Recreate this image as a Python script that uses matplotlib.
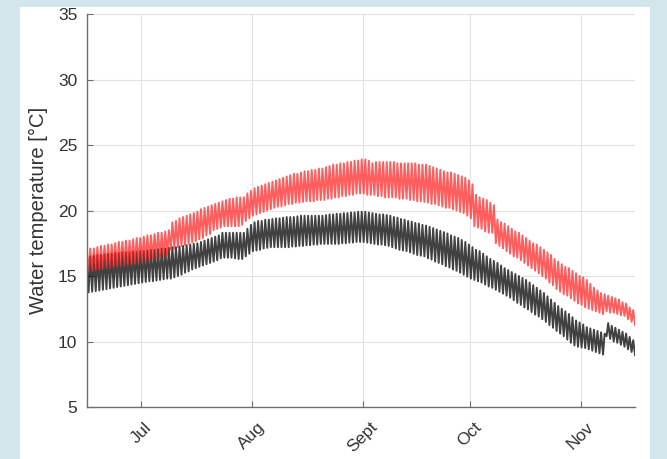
import numpy as np
import matplotlib
matplotlib.use("Agg")
import matplotlib.pyplot as plt
from matplotlib.patches import Rectangle

plt.rcParams['font.family'] = ['Liberation Sans', 'DejaVu Sans']

# day offsets from 15 June; one daily low and one daily high per series
days = np.arange(155)

red_high = [
    17.0, 17.1, 17.1, 17.2, 17.3, 17.3, 17.4, 17.4, 17.5, 17.6,
    17.6, 17.7, 17.7, 17.8, 17.9, 17.9, 18.0, 18.1, 18.1, 18.2,
    18.3, 18.3, 18.4, 18.5, 19.1, 19.2, 19.4, 19.5, 19.6, 19.7,
    19.8, 19.9, 20.1, 20.2, 20.3, 20.4, 20.5, 20.6, 20.7, 20.8,
    20.9, 20.9, 21.0, 21.0, 21.0, 21.3, 21.5, 21.7, 21.8, 21.9,
    22.0, 22.1, 22.2, 22.3, 22.4, 22.5, 22.6, 22.7, 22.8, 22.8,
    22.9, 23.0, 23.0, 23.1, 23.1, 23.2, 23.2, 23.3, 23.4, 23.5,
    23.5, 23.6, 23.6, 23.7, 23.7, 23.8, 23.8, 23.9, 23.9, 23.8,
    23.6, 23.7, 23.7, 23.7, 23.7, 23.7, 23.7, 23.6, 23.6, 23.6,
    23.6, 23.6, 23.6, 23.5, 23.5, 23.5, 23.4, 23.3, 23.2, 23.1,
    23.0, 22.9, 22.9, 22.8, 22.7, 22.6, 22.5, 22.3, 22.0, 21.2,
    21.0, 20.9, 20.8, 20.6, 20.4, 19.3, 19.1, 19.0, 18.8, 18.6,
    18.4, 18.3, 18.1, 17.9, 17.7, 17.5, 17.4, 17.2, 17.0, 16.8,
    16.6, 16.3, 16.1, 15.9, 15.7, 15.6, 15.4, 15.2, 15.0, 14.9,
    14.7, 14.4, 14.1, 13.9, 13.7, 13.6, 13.5, 13.4, 13.3, 13.2,
    13.0, 12.9, 12.6, 12.4, 12.1]
red_low = [
    15.3, 15.35, 15.4, 15.45, 15.5, 15.55, 15.6, 15.65, 15.7, 15.75,
    15.8, 15.8, 15.85, 15.9, 15.95, 16.0, 16.1, 16.15, 16.2, 16.3,
    16.35, 16.45, 16.5, 16.6, 17.0, 17.1, 17.2, 17.3, 17.35, 17.45,
    17.55, 17.65, 17.8, 17.9, 18.1, 18.2, 18.5, 18.6, 18.7, 18.8,
    18.8, 18.8, 18.8, 18.8, 18.9, 19.2, 19.4, 19.6, 19.7, 19.8,
    19.9, 20.0, 20.1, 20.2, 20.3, 20.3, 20.4, 20.5, 20.5, 20.6,
    20.6, 20.65, 20.7, 20.7, 20.7, 20.8, 20.8, 20.8, 20.9, 20.9,
    21.0, 21.0, 21.1, 21.1, 21.2, 21.2, 21.3, 21.3, 21.3, 21.2,
    21.2, 21.2, 21.1, 21.1, 21.0, 21.0, 21.0, 21.0, 20.9, 20.9,
    20.9, 20.8, 20.8, 20.7, 20.7, 20.65, 20.6, 20.5, 20.5, 20.4,
    20.3, 20.2, 20.2, 20.1, 20.0, 19.9, 19.8, 19.6, 19.4, 18.8,
    18.7, 18.6, 18.4, 18.3, 18.3, 17.5, 17.3, 17.1, 16.9, 16.7,
    16.5, 16.4, 16.2, 16.0, 15.8, 15.6, 15.4, 15.2, 15.0, 14.8,
    14.5, 14.3, 14.0, 13.8, 13.6, 13.5, 13.3, 13.1, 12.9, 12.8,
    12.6, 12.5, 12.4, 12.3, 12.2, 12.1, 12.3, 12.2, 12.2, 12.1,
    12.0, 11.95, 11.7, 11.5, 11.2]

black_high = [
    16.5, 16.5, 16.55, 16.6, 16.6, 16.65, 16.7, 16.7, 16.75, 16.75,
    16.8, 16.8, 16.8, 16.85, 16.85, 16.9, 16.9, 16.95, 17.0, 17.0,
    17.05, 17.1, 17.1, 17.15, 17.2, 17.2, 17.25, 17.3, 17.35, 17.4,
    17.45, 17.5, 17.6, 17.7, 17.8, 17.9, 18.0, 18.1, 18.3, 18.3,
    18.3, 18.3, 18.3, 18.3, 18.3, 18.6, 18.9, 19.1, 19.2, 19.2,
    19.3, 19.3, 19.35, 19.4, 19.4, 19.45, 19.5, 19.5, 19.5, 19.55,
    19.6, 19.6, 19.6, 19.6, 19.6, 19.6, 19.6, 19.65, 19.7, 19.7,
    19.75, 19.75, 19.8, 19.8, 19.85, 19.85, 19.9, 19.9, 19.9, 19.85,
    19.8, 19.75, 19.7, 19.7, 19.65, 19.6, 19.5, 19.45, 19.35, 19.3,
    19.2, 19.15, 19.05, 19.0, 18.9, 18.85, 18.75, 18.65, 18.55, 18.45,
    18.35, 18.25, 18.1, 18.0, 17.9, 17.75, 17.6, 17.4, 17.2, 17.0,
    16.9, 16.7, 16.5, 16.3, 16.15, 16.0, 15.8, 15.6, 15.45, 15.3,
    15.15, 15.0, 14.85, 14.7, 14.5, 14.3, 14.1, 13.9, 13.7, 13.45,
    13.2, 12.95, 12.7, 12.5, 12.3, 12.1, 11.85, 11.6, 11.45, 11.3,
    11.1, 11.0, 10.9, 10.8, 10.7, 10.6, 11.4, 11.2, 11.05, 10.9,
    10.75, 10.6, 10.35, 10.1, 9.8]
black_low = [
    13.7, 13.75, 13.8, 13.85, 13.9, 13.95, 14.0, 14.05, 14.1, 14.15,
    14.2, 14.25, 14.3, 14.35, 14.4, 14.45, 14.5, 14.55, 14.6, 14.6,
    14.65, 14.7, 14.75, 14.8, 14.8, 14.9, 15.0, 15.1, 15.25, 15.35,
    15.5, 15.6, 15.7, 15.8, 15.9, 16.0, 16.1, 16.2, 16.35, 16.4,
    16.4, 16.4, 16.35, 16.3, 16.3, 16.5, 16.7, 16.9, 16.95, 17.0,
    17.1, 17.15, 17.2, 17.2, 17.2, 17.2, 17.2, 17.2, 17.25, 17.25,
    17.3, 17.3, 17.35, 17.35, 17.4, 17.4, 17.45, 17.45, 17.45, 17.45,
    17.45, 17.45, 17.5, 17.5, 17.55, 17.55, 17.6, 17.6, 17.6, 17.55,
    17.5, 17.45, 17.4, 17.4, 17.35, 17.3, 17.2, 17.1, 17.0, 16.95,
    16.9, 16.8, 16.7, 16.6, 16.55, 16.5, 16.35, 16.25, 16.1, 16.0,
    15.9, 15.75, 15.65, 15.5, 15.4, 15.25, 15.1, 14.95, 14.8, 14.7,
    14.6, 14.5, 14.35, 14.2, 14.1, 13.95, 13.8, 13.65, 13.5, 13.35,
    13.15, 12.95, 12.8, 12.6, 12.45, 12.25, 12.05, 11.9, 11.7, 11.5,
    11.25, 11.05, 10.8, 10.6, 10.4, 10.15, 9.9, 9.7, 9.6, 9.55,
    9.5, 9.4, 9.3, 9.2, 9.1, 9.0, 10.4, 10.2, 10.0, 9.9,
    9.75, 9.6, 9.4, 9.2, 8.9]

month_days = [16, 47, 78, 108, 139]
month_labels = ['Jul', 'Aug', 'Sept', 'Oct', 'Nov']


def zigzag(low, high):
    # low in the early morning, high in the afternoon
    t = np.column_stack([days + 0.25, days + 0.7]).ravel()
    v = np.column_stack([low, high]).ravel()
    return t, v


fig = plt.figure(figsize=(6.67, 4.59), dpi=100, facecolor='#d3e6ec')
panel = Rectangle((20 / 667, 0), 630 / 667, 452 / 459,
                  transform=fig.transFigure, facecolor='white',
                  edgecolor='none', zorder=-10)
fig.add_artist(panel)
ax = fig.add_axes([87 / 667, 1 - 407 / 459, 548 / 667, 393 / 459])
ax.set_facecolor('white')

tb, vb = zigzag(black_low, black_high)
tr, vr = zigzag(red_low, red_high)
ax.plot(tb, vb, color='#111111', lw=1.4, alpha=0.8)
ax.plot(tr, vr, color='#ff1a1a', lw=1.4, alpha=0.7)

ax.set_xlim(0.8, 154.2)
ax.set_ylim(5, 35)
ax.set_yticks(np.arange(5, 36, 5))
ax.set_xticks(month_days)
ax.set_xticklabels(month_labels, rotation=45, ha='center', va='top')
ax.grid(True, color='#e3e3e3', lw=0.8)
ax.set_axisbelow(True)

for s in ['top', 'right']:
    ax.spines[s].set_visible(False)
for s in ['left', 'bottom']:
    ax.spines[s].set_color('#6e6e6e')
    ax.spines[s].set_linewidth(1.0)
ax.tick_params(direction='in', length=4, color='#6e6e6e', labelcolor='#333333',
               labelsize=12.5)
ax.tick_params(axis='x', pad=9)
ax.tick_params(axis='y', pad=7)
ax.set_ylabel('Water temperature [°C]', fontsize=14.5, color='#333333', labelpad=7)

plt.savefig('out.png', dpi=100, facecolor=fig.get_facecolor())
